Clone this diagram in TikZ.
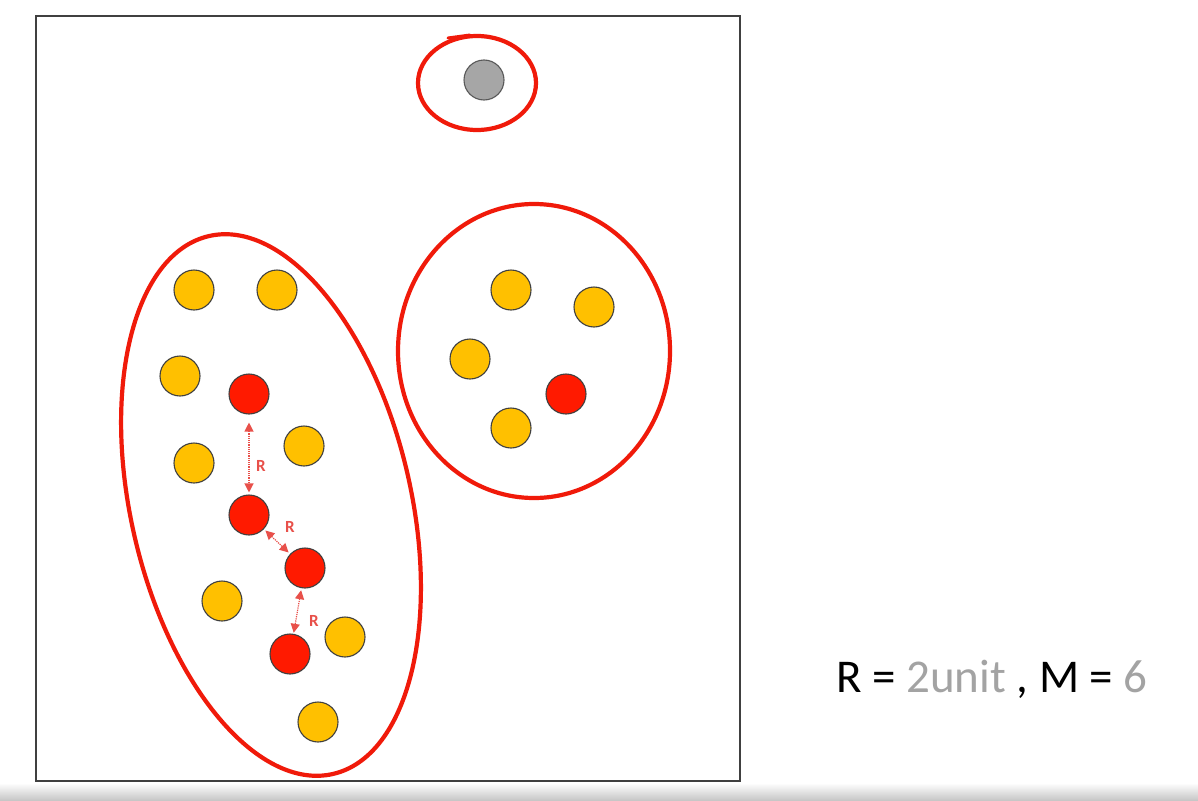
\documentclass[tikz,border=0pt]{standalone}
\usepackage{fontspec}
\setmainfont{Carlito}
\usetikzlibrary{arrows.meta}
\definecolor{ylw}{HTML}{FFC000}
\definecolor{rd}{HTML}{FF1A00}
\definecolor{gry}{HTML}{A6A6A6}
\definecolor{hull}{HTML}{F01A0A}
\definecolor{arr}{HTML}{E8504A}
\definecolor{txtgray}{HTML}{A3A3A3}
\tikzset{
  pt/.style={circle, draw=black!75, line width=1.1pt, minimum size=40pt, inner sep=0pt},
  ypt/.style={pt, fill=ylw},
  rpt/.style={pt, fill=rd},
  gpt/.style={pt, fill=gry, draw=black!65},
  hullline/.style={draw=hull, line width=4.2pt},
  rarrow/.style={draw=arr, line width=1.2pt, densely dotted, {Triangle[length=9pt,width=9pt]}-{Triangle[length=9pt,width=9pt]}},
  rlabel/.style={text=arr, font=\fontsize{17}{17}\selectfont\bfseries, inner sep=0pt}
}
\begin{document}
\begin{tikzpicture}[x=1pt,y=-1pt]
\useasboundingbox (0,0) rectangle (1198,800);
\fill[white] (0,0) rectangle (1198,800);
\shade[top color=white, bottom color=black!22] (0,783) rectangle (1198,800);
% frame
\draw[black!75, line width=1.4pt] (36,16) rectangle (740,781);
% hulls
\draw[hullline, rotate around={13:(271,505)}] (271,505) ellipse [x radius=140, y radius=276];
\draw[hullline] (534,351) ellipse [x radius=136, y radius=147];
\draw[hullline] (477,83) ellipse [x radius=59, y radius=47];
\draw[hull, line width=3pt, line cap=round] (448,38) -- (470,35);
% gray point
\node[gpt] (g1) at (484,80) {};
% left cluster
\node[ypt] (y1) at (194,290) {};
\node[ypt] (y2) at (277,290) {};
\node[ypt] (y3) at (180,376) {};
\node[ypt] (y4) at (194,463) {};
\node[ypt] (y5) at (304,446) {};
\node[ypt] (y6) at (222,601) {};
\node[ypt] (y7) at (345,637) {};
\node[ypt] (y8) at (318,722) {};
\node[rpt] (r1) at (249,394) {};
\node[rpt] (r2) at (249,515) {};
\node[rpt] (r3) at (305,568) {};
\node[rpt] (r4) at (290,654) {};
% right cluster
\node[ypt] (y9) at (511,290) {};
\node[ypt] (y10) at (594,307) {};
\node[ypt] (y11) at (470,359) {};
\node[ypt] (y12) at (511,428) {};
\node[rpt] (r5) at (566,394) {};
% distance arrows
\draw[rarrow, shorten <=8pt, shorten >=2pt] (r1) -- (r2);
\draw[rarrow, shorten <=2pt, shorten >=2pt] (r2) -- (r3);
\draw[rarrow, shorten <=2pt, shorten >=1pt] (r3) -- (r4);
\node[rlabel] (l1) at (261,466) {R};
\node[rlabel] (l2) at (290,527) {R};
\node[rlabel] (l3) at (314,621) {R};
% parameters
\node[anchor=base west, inner sep=0pt, font=\fontsize{47}{47}\selectfont] (par) at (836,692) {R = \textcolor{txtgray}{2unit} , M = \textcolor{txtgray}{6}};
\end{tikzpicture}
\end{document}
